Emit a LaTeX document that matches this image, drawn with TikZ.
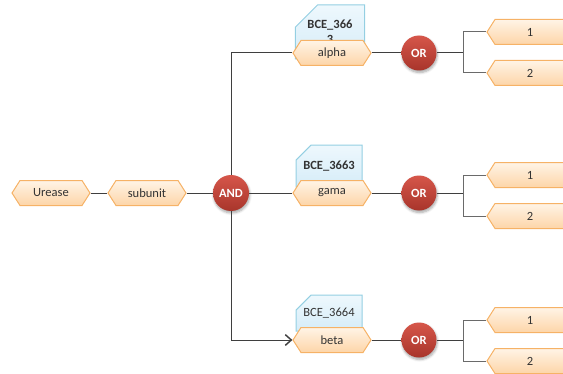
\documentclass[tikz,border=0pt]{standalone}
\usepackage{fontspec}
\setmainfont{Carlito}
\usetikzlibrary{shapes.symbols,shapes.misc,shadows.blur,arrows.meta}

\definecolor{hexline}{HTML}{F6B266}
\definecolor{hextop}{HTML}{FFF4E6}
\definecolor{hexbot}{HTML}{FDD5A8}
\definecolor{gatetop}{HTML}{D6564A}
\definecolor{gatebot}{HTML}{A8352B}
\definecolor{tagline}{HTML}{94CFE2}
\definecolor{tagtop}{HTML}{EEF8FD}
\definecolor{tagbot}{HTML}{D5ECF8}
\definecolor{wirecol}{HTML}{3F3F3F}
\definecolor{forkcol}{HTML}{6A6A6A}
\definecolor{txt}{HTML}{333333}

\tikzset{
  hexbox/.style={signal, signal to=east and west, signal pointer angle=114.8,
    draw=hexline, line width=0.75pt, top color=hextop, bottom color=hexbot,
    minimum width=58.5pt, minimum height=18.75pt, inner sep=0pt, text=txt},
  hexflag/.style={hexbox, signal to=west},
  gate/.style={circle, top color=gatetop, bottom color=gatebot, draw=none,
    minimum size=26.25pt, inner sep=0pt, text=white, font=\bfseries,
    blur shadow={shadow xshift=0.5pt, shadow yshift=-1.5pt, shadow opacity=35, shadow blur steps=6}},
  tag/.style={chamfered rectangle, chamfered rectangle corners=north west,
    chamfered rectangle xsep=10.5pt, chamfered rectangle ysep=7.5pt,
    draw=tagline, line width=0.75pt, top color=tagtop, bottom color=tagbot,
    minimum width=49.5pt, inner sep=0pt, text=txt, align=center},
  wire/.style={draw=wirecol, line width=0.75pt},
  fork/.style={draw=forkcol, line width=0.75pt},
}

\begin{document}
\begin{tikzpicture}[x=0.75pt,y=-0.75pt]
  \useasboundingbox (0,0) rectangle (563,374);
  {\fontsize{9.4}{11.5}\selectfont

  % Drawing tags above the subunits
  \node (tag1) at (330,32) [tag, minimum height=40.5pt] {\bfseries BCE\_366\\\bfseries 3};
  \node (tag2) at (329,166) [tag, minimum height=31.5pt] {\bfseries BCE\_3663};
  \node (tag3) at (329,313) [tag, minimum height=27pt] {BCE\_3664};

  % Drawing main chain
  \node (urease) at (51,193) [hexbox] {Urease};
  \node (subunit) at (147,193) [hexbox] {subunit};
  \node (and) at (231,193) [gate, minimum size=27pt] {AND};

  % Drawing subunits
  \node (alpha) at (332,53) [hexbox] {alpha};
  \node (gama) at (332,193) [hexbox] {gama};
  \node (beta) at (332,340) [hexbox] {beta};

  % Drawing OR gates
  \node (or1) at (419,53) [gate] {OR};
  \node (or2) at (419,193) [gate] {OR};
  \node (or3) at (419,340) [gate] {OR};

  % Drawing leaves
  \node (one1) at (530,32) [hexflag] {1};
  \node (two1) at (530,73) [hexflag] {2};
  \node (one2) at (530,175) [hexflag] {1};
  \node (two2) at (530,216) [hexflag] {2};
  \node (one3) at (530,320) [hexflag] {1};
  \node (two3) at (530,361) [hexflag] {2};

  % Fork points
  \coordinate (fork1) at (463,53);
  \coordinate (fork2) at (463,193);
  \coordinate (fork3) at (463,340);

  % Drawing connectors
  \draw [wire] (urease.east) -- (subunit.west);
  \draw [wire] (subunit.east) -- (and.west);
  \draw [wire] (and.east) -- (gama.west);
  \draw [wire] (and.north) |- (alpha.west);
  \draw [wire, -{Straight Barb[length=4.5pt,width=8pt,line width=1.1pt]}] (and.south) |- (beta.west);

  \draw [wire] (alpha.east) -- (or1.west);
  \draw [wire] (gama.east) -- (or2.west);
  \draw [wire] (beta.east) -- (or3.west);

  \draw [wire] (or1.east) -- (fork1);
  \draw [wire] (or2.east) -- (fork2);
  \draw [wire] (or3.east) -- (fork3);

  \draw [fork] (fork1) |- (one1.west);
  \draw [fork] (fork1) |- (two1.west);
  \draw [fork] (fork2) |- (one2.west);
  \draw [fork] (fork2) |- (two2.west);
  \draw [fork] (fork3) |- (one3.west);
  \draw [fork] (fork3) |- (two3.west);
  }
\end{tikzpicture}
\end{document}
